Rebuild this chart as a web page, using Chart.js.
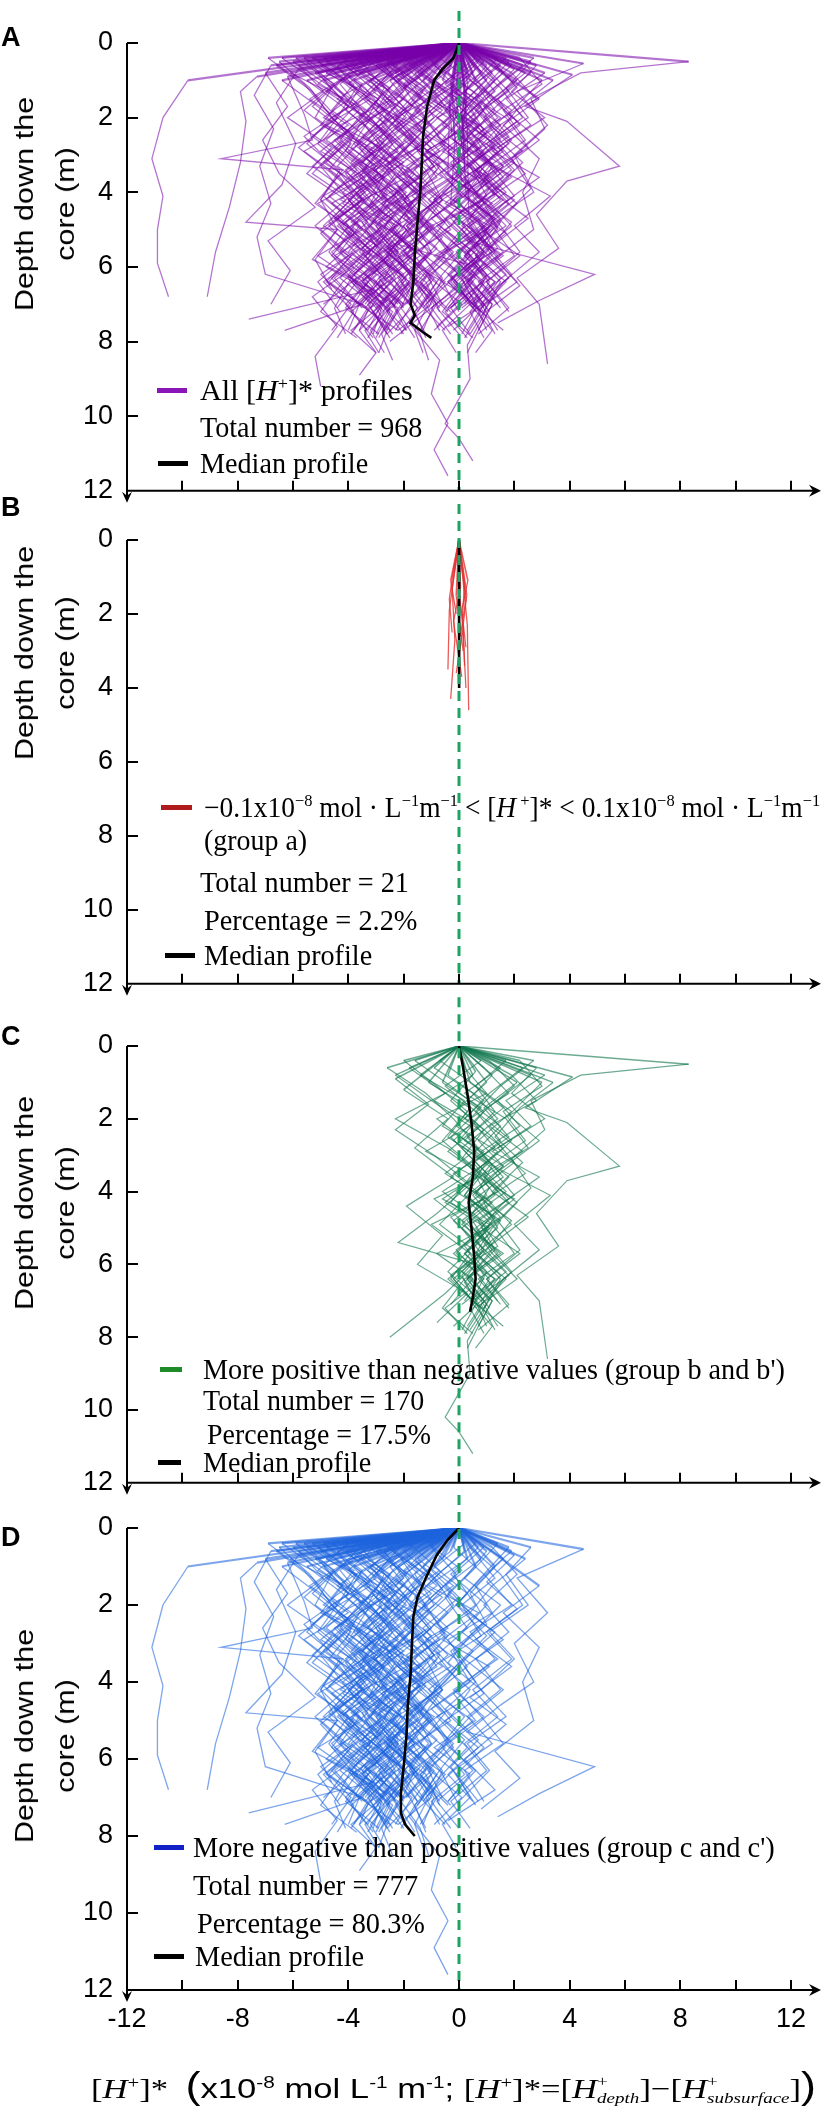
<!DOCTYPE html>
<html><head><meta charset="utf-8">
<script src="https://cdn.jsdelivr.net/npm/chart.js@4.4.0/dist/chart.umd.min.js"></script>
<style>
html,body{margin:0;padding:0;background:#fff;}
#page{position:relative;width:830px;height:2118px;overflow:hidden;background:#fff;}
canvas{position:absolute;left:0;}
.t{position:absolute;white-space:nowrap;transform-origin:0 50%;line-height:1;color:#000;}
.serif{font-family:'Liberation Serif','Times New Roman',serif;}
.sans{font-family:'Liberation Sans',Arial,sans-serif;}
.sw{position:absolute;height:5px;}
.lbl{position:absolute;font:bold 27px 'Liberation Sans',Arial,sans-serif;line-height:1;transform:translateY(-50%);}
sup{font-size:0.6em;vertical-align:0.6em;line-height:0;}
.ss{display:inline-flex;flex-direction:column;font-size:0.55em;line-height:1.1;vertical-align:0.75em;text-align:left;}
.big{font-size:1.3em;}
.ytitle{position:absolute;font-family:'Liberation Sans',Arial,sans-serif;font-size:26px;line-height:41px;text-align:center;white-space:nowrap;}
</style></head>
<body><div id="page"></div>
<script>
// ---------------- DATA ----------------
const xTickMarks = [-10,-8,-6,-4,-2,0,2,4,6,8,10,12];
const yTickMarks = [0,2,4,6,8,10];

// shared depth grids (m)
const depthGrid1 = [0,0.8,1.5,2.2,2.9,3.6,4.3,5.0,5.7,6.4,7.1,7.8,8.5];
const depthGrid2 = [0,0.6,1.3,2.0,2.8,3.5,4.2,4.9,5.7,6.4,7.2,7.9];
const depthGrid3 = [0,1.0,1.7,2.5,3.2,4.0,4.7,5.5,6.2,7.0,7.7,8.3];
const depthGrid4 = [0,0.4,1.1,1.8,2.6,3.3,4.1,4.8,5.6,6.3,7.0,7.7];
const depthGrid5 = [0,0.5,1.2,2.0,2.7,3.4,4.2,4.9,5.6,6.3,7.1,7.8];

// group c and c' (blue) profiles, [H+]* values on the grids
const blueOnGrid1 = [
 [0,-4.5,-3.2,-4.8,-2.9,-3.6,-2.1,-3.4,-2.5,-3.9,-2.8,-3.1],
 [0,-2.1,-1.4,-2.8,-1.9,-0.6,-2.2,-1.5,-3.0,-1.8,-2.4],
 [0,-6.1,-4.2,-5.0,-3.1,-4.4,-5.2,-3.8,-4.6,-3.3,-4.1,-2.9],
 [0,0.8,-0.5,0.4,-1.2,-0.3,-1.8,-0.9,-0.2,-1.4,-0.7],
 [0,-3.3,-2.0,-3.6,-4.1,-2.7,-3.2,-1.9,-2.6,-3.5,-2.2,-2.8,-2.4],
 [0,-1.2,-2.6,-1.1,-2.0,-3.1,-1.7,-2.4,-1.2,-2.1,-1.5],
 [0,-5.2,-3.9,-2.6,-4.0,-3.0,-4.6,-3.5,-5.1,-3.7,-4.4],
 [0,1.6,0.6,1.2,-0.4,0.3,-0.9,0.5,-0.6,0.2,-1.0,-0.3],
 [0,-2.8,-4.4,-3.0,-2.2,-3.9,-2.5,-4.1,-2.9,-1.8,-3.2,-2.6],
 [0,-0.6,-1.7,-0.4,-1.5,-0.8,-2.3,-1.0,-1.9,-0.5,-1.3],
 [0,-3.9,-5.4,-4.0,-5.6,-4.3,-3.6,-5.0,-3.9,-4.7,-3.4],
 [0,-1.9,-0.8,-2.1,-3.3,-1.4,-2.8,-2.0,-3.6,-2.3,-1.7,-2.6],
 [0,0.3,-1.1,0.7,-0.6,1.1,-0.2,0.6,-0.9,0.4,-0.4],
 [0,-4.8,-2.9,-3.8,-5.0,-3.4,-4.2,-2.6,-3.9,-4.8,-3.3,-3.9],
 [0,-2.5,-3.4,-1.6,-2.9,-2.1,-0.9,-2.5,-1.4,-2.8,-2.0],
 [0,-1.5,-0.2,-1.6,-0.7,-2.2,-1.1,-0.3,-1.8,-1.0,-2.1,-1.4,-1.1],
 [0,2.4,1.2,0.4,1.6,0.2,0.9,-0.5,0.7,-0.4,0.5],
 [0,-3.6,-2.4,-4.3,-3.1,-1.9,-3.7,-2.8,-4.5,-3.0,-2.3]
];
const blueOnGrid2 = [
 [0,-5.8,-4.9,-6.2,-4.6,-5.5,-4.1,-5.2,-4.0,-5.1,-4.3],
 [0,-1.0,-2.3,-1.2,-0.5,-1.9,-0.8,-2.0,-1.3,-0.6,-1.6,-1.2],
 [0,-3.0,-1.8,-2.7,-1.5,-3.3,-2.2,-1.4,-2.9,-2.0,-3.1,-2.5],
 [0,0.5,1.3,0.1,0.8,-0.7,0.4,-0.3,0.9,-0.1,0.6],
 [0,-4.1,-3.0,-4.6,-3.4,-2.5,-4.0,-3.2,-2.1,-3.6,-2.7,-3.3],
 [0,-2.4,-1.3,-2.0,-2.9,-1.6,-2.5,-0.9,-2.2,-1.5,-2.6],
 [0,-6.6,-5.3,-4.4,-5.8,-4.6,-3.5,-4.7,-3.6,-4.9,-3.8,-4.4],
 [0,-0.3,-1.5,-2.4,-1.0,-2.0,-0.6,-1.7,-2.5,-1.2,-0.7],
 [0,-1.7,-3.1,-1.9,-3.4,-2.3,-3.0,-1.6,-2.7,-3.8,-2.4,-2.9],
 [0,1.0,0.2,1.5,0.4,-0.4,0.8,-0.8,0.3,-0.6,0.0],
 [0,-3.5,-4.8,-3.3,-4.4,-5.3,-3.9,-4.9,-3.2,-4.2,-5.0,-3.7],
 [0,-2.0,-0.9,-1.8,-0.4,-1.3,-2.4,-1.1,-1.9,-0.8,-1.5],
 [0,-4.4,-3.7,-2.4,-3.6,-2.9,-4.3,-2.2,-3.4,-2.6,-3.9,-3.1],
 [0,-1.4,-2.7,-3.5,-2.1,-1.2,-2.6,-3.2,-1.8,-2.9,-2.2,-1.6],
 [0,0.2,-0.9,-0.2,-1.3,0.1,-0.8,-1.9,-0.5,-1.4,-0.3],
 [0,-5.0,-3.6,-4.9,-2.8,-4.1,-3.3,-4.4,-2.9,-3.7,-2.8],
 [0,-2.7,-2.0,-3.2,-3.9,-2.6,-1.8,-3.0,-2.3,-3.5,-2.5,-3.0],
 [0,1.9,0.8,-0.1,1.0,0.0,-0.9,0.2,-0.7,-1.5,-0.4]
];
const blueOnGrid3 = [
 [0,-6.4,-5.1,-3.8,-4.9,-3.2,-4.4,-3.1,-4.0,-2.7,-3.6,-3.0],
 [0,-2.2,-1.0,-2.5,-1.6,-2.9,-1.8,-2.6,-1.4,-2.4,-1.9],
 [0,-0.9,0.3,-0.8,0.5,-0.5,-1.6,-0.4,-1.2,0.1,-0.9],
 [0,-3.8,-2.6,-3.9,-2.8,-4.2,-2.4,-3.5,-2.1,-3.3,-2.6,-2.9],
 [0,-1.6,-2.8,-1.7,-0.7,-2.3,-1.3,-2.7,-1.7,-1.0,-2.2],
 [0,-4.9,-4.0,-5.3,-4.1,-3.0,-4.5,-3.6,-5.0,-3.9,-4.6],
 [0,1.3,0.4,1.0,-0.2,0.6,-0.5,0.7,-0.3,0.4,-0.6,-0.1],
 [0,-2.9,-3.9,-2.5,-3.5,-1.9,-3.1,-2.2,-3.4,-2.4,-3.2,-2.7],
 [0,-5.5,-4.2,-3.0,-3.9,-2.6,-3.6,-4.4,-3.0,-4.1,-3.3],
 [0,-1.3,-0.3,-1.5,-2.4,-1.2,-2.0,-0.8,-1.8,-1.1,-1.6,-1.3],
 [0,-3.2,-2.3,-3.5,-2.0,-3.7,-2.9,-1.7,-2.8,-3.6,-2.2],
 [0,0.6,-0.4,0.9,-0.3,0.4,-1.0,0.2,-0.6,-1.4,-0.5],
 [0,-4.3,-5.3,-3.9,-4.8,-3.4,-4.5,-2.8,-3.8,-2.5,-3.4,-2.9],
 [0,-2.5,-1.7,-3.0,-2.2,-1.3,-2.5,-3.1,-2.0,-2.8,-1.9]
];
const blueOnGrid4 = [
 [0,-5.3,-3.8,-4.6,-3.2,-2.4,-3.7,-2.6,-3.9,-2.8,-3.5,-2.5],
 [0,-3.4,-2.1,-3.0,-1.6,-2.7,-1.4,-2.9,-1.9,-3.1,-2.2],
 [0,-6.4,-5.0,-3.6,-4.8,-3.5,-2.7,-4.1,-3.2,-4.5,-3.6,-4.0],
 [0,-1.8,-0.7,-2.0,-1.1,-2.6,-1.5,-0.6,-2.1,-1.2,-1.9],
 [0,-4.6,-3.1,-2.2,-3.5,-4.4,-2.9,-3.8,-2.3,-3.3,-2.0,-2.7],
 [0,-2.9,-4.0,-2.6,-1.8,-3.2,-2.0,-3.5,-2.6,-1.5,-2.8],
 [0,0.6,-0.6,-1.6,-0.4,-1.9,-0.8,-1.4,-0.2,-1.1,-0.6],
 [0,-5.9,-4.5,-5.6,-4.2,-5.3,-3.8,-4.7,-3.4,-4.3,-3.1,-3.8],
 [0,-2.3,-3.3,-2.0,-2.9,-1.5,-2.4,-3.4,-2.2,-2.7,-1.7,-2.3],
 [0,-0.9,-2.0,-0.6,-1.8,-0.9,-2.7,-1.6,-1.0,-2.2,-1.4],
 [0,-4.0,-5.1,-3.4,-4.3,-3.0,-4.9,-3.7,-2.8,-4.0,-3.2,-3.6],
 [0,-1.3,-2.4,-3.0,-1.7,-2.6,-1.2,-2.3,-3.1,-1.9,-2.5],
 [0,1.4,0.5,-0.5,0.3,-0.8,0.1,-1.2,-0.4,-1.7,-0.9,-1.3],
 [0,-3.7,-2.8,-1.9,-3.0,-2.2,-3.6,-2.5,-1.6,-2.9,-2.0],
 [0,-6.9,-5.6,-4.8,-3.9,-5.0,-4.1,-3.3,-4.6,-3.7,-4.9],
 [0,-2.6,-1.5,-2.4,-3.3,-2.0,-2.8,-1.7,-2.5,-3.2,-2.1,-2.6],
 [0,-4.9,-3.5,-4.1,-2.7,-3.6,-2.3,-3.1,-4.0,-2.6,-3.4],
 [0,-1.1,0.1,-1.0,-2.0,-0.7,-1.5,-2.2,-1.0,-1.8,-0.8,-1.4],
 [0,-3.1,-4.3,-3.5,-2.4,-3.8,-2.9,-2.1,-3.3,-2.4,-3.7],
 [0,-5.6,-4.1,-3.0,-4.4,-3.3,-4.7,-3.5,-2.9,-3.9,-2.8],
 [0,0.2,-1.0,0.0,-1.3,-0.4,-1.7,-0.5,-1.4,-0.2,-1.2,-0.7],
 [0,-2.0,-2.9,-1.4,-2.5,-3.4,-2.0,-2.9,-1.5,-2.6,-1.8],
 [0,-4.2,-2.9,-3.9,-4.9,-3.6,-2.6,-3.9,-2.4,-3.5,-2.8,-3.3],
 [0,-1.6,-2.8,-1.9,-1.0,-2.2,-1.4,-2.6,-1.7,-1.0,-2.0]
];
const blueOnGrid5 = [
 [0,-4.8,-3.4,-2.5,-3.8,-2.7,-4.0,-3.0,-2.2,-3.4,-2.5,-3.0],
 [0,-2.6,-1.2,-2.3,-1.5,-0.8,-2.0,-1.3,-2.6,-1.6,-2.1],
 [0,-6.0,-4.6,-5.2,-3.9,-4.7,-3.4,-4.2,-3.1,-3.9,-3.0],
 [0,-3.6,-4.5,-3.2,-2.4,-3.5,-2.6,-3.9,-2.7,-2.0,-3.0,-2.4],
 [0,-0.5,-1.6,-0.9,-2.1,-1.2,-0.6,-1.9,-1.1,-2.0,-1.2],
 [0,-5.1,-3.7,-4.4,-5.1,-3.9,-3.0,-4.3,-3.3,-4.6,-3.5],
 [0,-1.9,-3.0,-2.2,-1.3,-2.6,-1.8,-1.0,-2.3,-1.6,-2.7,-2.0],
 [0,-4.2,-2.7,-3.3,-2.1,-3.0,-3.9,-2.8,-3.6,-2.4,-3.2],
 [0,0.9,-0.2,0.6,-0.7,0.2,-1.1,-0.3,-1.5,-0.6,-1.1],
 [0,-3.0,-2.0,-1.2,-2.4,-3.1,-1.9,-2.7,-1.6,-2.4,-1.5,-2.1],
 [0,-5.5,-4.4,-3.5,-4.6,-3.7,-4.8,-3.6,-4.3,-3.2,-3.9],
 [0,-2.2,-3.6,-2.8,-3.7,-2.6,-3.3,-2.1,-2.9,-2.3,-3.4],
 [0,-1.0,-0.1,-1.3,-0.5,-1.6,-0.6,-1.3,-2.0,-0.9,-1.7,-1.2],
 [0,-3.9,-2.5,-3.6,-2.9,-4.1,-3.2,-2.3,-3.5,-2.7,-3.9],
 [0,-6.5,-5.4,-4.6,-5.5,-4.3,-5.0,-4.0,-4.7,-3.9,-4.5,-4.1],
 [0,-2.9,-1.9,-2.9,-2.0,-3.0,-2.2,-3.3,-2.4,-1.7,-2.6],
 [0,1.2,2.1,0.9,1.8,0.6,1.5,0.3,1.2,-0.2,0.7],
 [0,0.4,1.5,2.3,1.0,1.9,0.5,1.4,0.2,1.0,-0.3,0.4],
 [0,-0.2,0.9,-0.1,1.3,0.2,1.6,0.4,-0.5,0.6,-0.4],
 [0,2.6,1.7,2.5,1.1,2.0,0.8,1.7,0.3,1.1,0.0],
 [0,0.7,-0.3,1.0,0.1,1.4,-0.2,0.9,-0.4,0.5,-0.8,0.0],
 [0,1.8,0.9,1.9,0.4,1.3,-0.1,0.8,1.6,0.2,0.9]
];
// blue profiles with their own depths: [x, depth]
const blueOutliers = [
 [[0,0],[-9.8,1.0],[-10.7,2.0],[-11.1,3.1],[-10.7,4.1],[-10.9,5.0],[-10.9,5.9],[-10.5,6.8]],
 [[0,0],[-7.3,0.9],[-7.9,1.3],[-7.7,2.1],[-7.9,3.2],[-8.3,4.4],[-8.8,5.6],[-9.1,6.8]],
 [[0,0],[-6.2,0.9],[-5.6,1.9],[-5.3,2.6],[-8.6,3.1],[-4.2,3.4],[-5.0,4.2],[-4.4,5.0],[-5.2,5.8],[-4.6,6.6]],
 [[0,0],[-5.8,0.7],[-6.6,1.6],[-5.9,2.7],[-6.4,3.8],[-7.7,4.8],[-4.4,5.0],[-5.3,5.8],[-3.1,6.6],[-7.6,7.4]],
 [[0,0],[-6.8,0.6],[-7.4,1.4],[-6.7,2.3],[-7.2,3.3],[-6.8,4.3],[-7.3,5.2],[-7.0,6.2],[-3.5,7.0],[-6.3,7.7]],
 [[0,0],[-7.0,0.8],[-6.2,1.7],[-7.1,2.6],[-6.5,3.5],[-5.2,4.4],[-6.9,5.3],[-6.1,6.1],[-6.8,7.0]],
 [[0,0],[4.5,0.55],[2.1,1.3],[3.2,2.2],[2.0,3.0],[2.7,4.0],[1.5,4.6],[0.3,5.3],[4.9,6.2],[2.9,6.9],[1.4,7.5]],
 [[0,0],[2.9,1.5],[1.6,2.2],[2.9,3.1],[2.3,4.0],[2.7,5.0],[1.3,5.8],[2.2,6.5],[0.8,7.3]],
 [[0,0],[2.0,0.7],[1.0,1.4],[2.1,2.1],[0.6,2.9],[1.9,3.6],[0.4,4.4],[1.7,5.1],[0.2,6.0],[1.3,6.8],[-0.4,7.6]],
 [[0,0],[-1.6,0.8],[-0.6,1.6],[-1.8,2.5],[-0.9,3.3],[-2.0,4.2],[-1.1,5.0],[-2.2,5.9],[-1.0,6.7],[-1.8,7.5],[-0.7,8.5],[-1.0,9.4],[-0.4,10.2],[-0.9,10.9],[-0.4,11.6]],
 [[0,0],[-4.0,0.9],[-2.7,1.8],[-4.5,2.6],[-3.2,3.5],[-5.1,4.3],[-3.6,5.2],[-4.8,6.0],[-2.6,6.9],[-3.9,7.7],[-3.0,8.3],[-3.6,8.9]],
 [[0,0],[-5.1,0.8],[-4.0,1.7],[-5.6,2.5],[-4.4,3.4],[-3.5,4.2],[-5.0,5.1],[-3.8,6.0],[-5.3,6.8],[-4.4,7.6],[-5.2,8.4],[-5.0,9.2]]
];
const blueMedian = [[0,0],[-0.4,0.3],[-0.8,0.7],[-1.2,1.3],[-1.5,1.8],[-1.65,2.3],[-1.7,3.0],[-1.75,3.8],[-1.85,4.6],[-1.9,5.4],[-2.0,6.2],[-2.1,6.9],[-2.1,7.4],[-1.95,7.7],[-1.6,8.0]];

// group b and b' (green)
const greenOnGrid1 = [
 [0,1.2,0.3,1.5,0.6,1.8,0.9,1.4,0.2,1.1,0.5],
 [0,-1.4,0.2,-0.6,0.9,-0.3,1.2,0.1,0.8,-0.2,0.6,0.1],
 [0,2.6,1.4,2.2,0.8,1.6,0.4,1.3,2.0,0.7,1.5],
 [0,0.5,-0.9,0.7,-0.4,0.9,1.8,0.6,1.4,0.3,1.0,0.4],
 [0,-2.3,-1.0,0.4,-1.2,0.6,-0.5,1.0,-0.8,0.5,-0.3],
 [0,1.9,2.8,1.1,2.3,0.9,2.1,1.2,0.6,1.7,0.8,1.3],
 [0,-0.4,0.9,-0.1,1.4,0.4,-0.3,1.1,0.2,1.3,0.1],
 [0,3.1,1.7,2.6,1.2,2.9,1.6,0.8,2.2,1.0,1.8,0.7]
];
const greenOnGrid2 = [
 [0,0.9,1.8,0.4,1.3,-0.2,1.0,0.1,1.6,0.3,1.1],
 [0,-1.8,-0.5,-2.3,-0.4,0.8,-0.6,1.1,-0.2,0.9,-0.5,0.3],
 [0,2.3,1.1,0.2,1.6,0.5,2.0,0.9,-0.1,1.3,0.4,0.9],
 [0,0.2,1.0,-0.8,0.6,1.5,0.2,-0.7,0.7,-0.4,0.8],
 [0,1.5,0.2,1.7,2.5,0.9,1.8,0.4,1.2,2.1,0.6],
 [0,-0.9,0.5,1.4,0.1,1.0,-0.9,0.3,1.5,0.2,-0.6,0.5],
 [0,2.8,1.9,3.1,1.4,2.4,1.0,1.9,0.6,1.5,0.9],
 [0,-2.6,-1.2,-0.2,0.7,-0.5,0.9,-1.0,0.4,-0.3,0.8,0.2]
];
const greenOnGrid3 = [
 [0,1.0,0.0,1.2,2.0,0.6,1.5,0.2,1.0,0.5,1.6],
 [0,-1.1,0.4,-0.4,1.0,-0.6,0.7,1.4,-0.1,0.9,0.3],
 [0,2.1,0.9,1.8,0.5,1.4,-0.3,0.8,1.7,0.4,1.2,0.6],
 [0,0.4,1.6,0.3,1.1,-0.1,1.3,0.5,-0.4,0.8,-0.2],
 [0,3.4,2.2,1.3,2.3,1.2,2.5,1.1,1.9,0.8,1.4],
 [0,-0.6,0.8,-0.3,0.6,1.7,0.4,1.1,0.1,1.2,0.7,0.3]
];
const greenOnGrid4 = [
 [0,1.7,0.6,1.9,0.7,1.6,0.3,1.2,0.5,1.5,0.8],
 [0,-1.6,-0.3,0.9,-0.2,1.1,0.2,1.4,0.3,0.9,0.2],
 [0,2.2,3.0,1.6,2.4,1.1,2.0,0.7,1.3,0.4,1.1],
 [0,0.8,-0.5,0.6,1.5,0.4,1.0,-0.2,0.9,0.1,0.6,1.0],
 [0,-0.7,0.6,1.3,0.2,1.6,0.5,1.3,-0.1,0.7,1.4],
 [0,2.7,1.5,0.6,1.9,0.9,0.2,1.5,0.8,1.8,0.5],
 [0,1.1,2.0,0.9,0.0,1.2,0.6,1.9,1.0,0.3,1.2,0.7],
 [0,-2.0,-0.8,0.3,-0.6,0.5,1.3,0.1,0.9,-0.3,0.5]
];
const greenOutliers = [
 [[0,0],[8.3,0.5],[4.4,0.8],[2.6,1.5],[3.1,2.3],[1.9,3.1],[2.6,3.9],[1.4,4.8],[2.2,5.6],[1.0,6.4],[1.8,7.2]],
 [[0,0],[4.1,0.85],[2.4,1.7],[3.9,2.1],[5.8,3.3],[3.9,3.7],[2.8,4.6],[3.6,5.5],[2.1,6.3],[2.9,7.0],[3.2,8.6]],
 [[0,0],[-2.3,0.9],[-1.1,1.6],[-2.3,2.3],[-0.9,3.0],[0.4,3.8],[-0.8,4.6],[-2.2,5.4],[0.6,6.0],[-0.5,6.8],[-2.5,8.0]],
 [[0,0],[0.6,0.7],[-0.3,1.5],[0.9,2.3],[0.1,3.1],[1.1,3.9],[0.3,4.8],[1.2,5.6],[0.2,6.5],[0.9,7.3],[0.3,8.1],[0.4,9.0],[-0.5,10.2],[0.0,10.6],[0.5,11.2]],
 [[0,0],[-2.0,1.2],[-0.4,2.0],[-1.6,2.8],[-0.2,3.6],[-1.9,4.4],[-0.6,5.2],[-1.5,6.0],[0.3,6.8],[-0.8,7.6]],
 [[0,0],[3.0,1.0],[1.8,1.9],[2.9,2.6],[1.5,3.4],[3.3,4.1],[2.0,4.9],[2.9,5.6],[1.6,6.4],[0.9,7.2]]
];
const greenMedian = [[0,0],[0.15,0.6],[0.3,1.3],[0.45,2.1],[0.55,2.9],[0.5,3.6],[0.35,4.3],[0.45,5.0],[0.55,5.8],[0.6,6.4],[0.5,6.9],[0.4,7.3]];

// group a (red)
const redProfiles = [
 [[0,0],[-0.15,0.8],[-0.35,1.9],[-0.4,3.5]],
 [[0,0],[0.12,0.9],[0.3,2.3],[0.35,4.6]],
 [[0,0],[-0.05,1.0],[0.15,2.4],[-0.1,3.6]],
 [[0,0],[0.2,1.2],[0.12,2.1],[0.25,4.0]],
 [[0,0],[-0.25,1.3],[-0.15,2.7],[-0.3,4.3]],
 [[0,0],[0.1,0.7],[0.25,1.6],[0.05,2.6]],
 [[0,0],[-0.1,1.5],[0.15,3.0]],
 [[0,0],[0.28,1.5],[0.15,2.3],[0.2,3.4]],
 [[0,0],[-0.3,1.1],[-0.1,2.0]],
 [[0,0],[0.05,1.3],[-0.2,2.2],[0.1,3.7]],
 [[0,0],[0.32,1.1],[0.1,1.9],[0.25,2.9]],
 [[0,0],[-0.22,0.9],[-0.35,1.6],[-0.25,2.5]]
];
const redMedian = [[0,0],[0.0,1.0],[0.02,2.0],[0.0,3.0],[0.0,4.0]];

// all profiles (median)
const allMedian = [[0,0],[-0.2,0.4],[-0.6,0.7],[-0.9,1.0],[-1.15,1.7],[-1.3,2.5],[-1.35,3.3],[-1.4,4.0],[-1.5,4.8],[-1.6,5.7],[-1.65,6.4],[-1.75,7.0],[-1.6,7.3],[-1.75,7.5],[-1.3,7.75],[-1.0,7.9]];

// ---------------- BUILD ----------------
const pts = arr => arr.map(([x,y]) => ({x, y}));
const onGrid = (grid, lists) => lists.map(xs => xs.map((x,i) => ({x, y: grid[i]})));
const blueSet = [...onGrid(depthGrid1, blueOnGrid1), ...onGrid(depthGrid2, blueOnGrid2), ...onGrid(depthGrid3, blueOnGrid3), ...onGrid(depthGrid4, blueOnGrid4), ...onGrid(depthGrid5, blueOnGrid5), ...blueOutliers.map(pts)];
const greenSet = [...onGrid(depthGrid1, greenOnGrid1), ...onGrid(depthGrid2, greenOnGrid2), ...onGrid(depthGrid3, greenOnGrid3), ...onGrid(depthGrid4, greenOnGrid4), ...greenOutliers.map(pts)];
const redSet = redProfiles.map(pts);
const allSet = [...blueSet, ...greenSet, ...redSet];

const page = document.getElementById('page');
const PAD_TOP = 56;
const X_LEFT = 127, X_RIGHT = 791, W = 830;

const axesDeco = {
  id: 'axesDeco',
  afterDatasetsDraw(chart) {
    const {ctx, chartArea: {left, right, top, bottom}, scales: {x, y}} = chart;
    ctx.save();
    ctx.strokeStyle = '#000'; ctx.fillStyle = '#000'; ctx.lineWidth = 2;
    ctx.beginPath();
    ctx.moveTo(left, top); ctx.lineTo(left, bottom + 8);
    ctx.moveTo(left - 1, bottom); ctx.lineTo(816, bottom);
    yTickMarks.forEach(v => { const p = Math.round(y.getPixelForValue(v)); ctx.moveTo(left, p); ctx.lineTo(left + 11, p); });
    xTickMarks.forEach(v => { const p = Math.round(x.getPixelForValue(v)); ctx.moveTo(p, bottom); ctx.lineTo(p, bottom - 10); });
    ctx.stroke();
    ctx.beginPath();
    ctx.moveTo(left, bottom + 12); ctx.lineTo(left - 5, bottom + 1); ctx.lineTo(left, bottom + 5); ctx.lineTo(left + 5, bottom + 1); ctx.closePath();
    ctx.moveTo(821, bottom); ctx.lineTo(809, bottom - 6); ctx.lineTo(813, bottom); ctx.lineTo(809, bottom + 6); ctx.closePath();
    ctx.fill();
    ctx.restore();
  }
};

function makePanel(cfg) {
  const canvas = document.createElement('canvas');
  const top = cfg.y0 - PAD_TOP;
  const h = (cfg.y12 - cfg.y0) + PAD_TOP + cfg.bottomSpace;
  canvas.width = W; canvas.height = h;
  canvas.style.top = top + 'px'; canvas.style.width = W + 'px'; canvas.style.height = h + 'px';
  page.appendChild(canvas);
  const perM = (cfg.y12 - cfg.y0) / 12;
  const dashTop = -(cfg.y0 - cfg.dashFrom) / perM;
  const datasets = [
    {data: [{x: 0, y: dashTop}, {x: 0, y: 12}], borderColor: '#1ea462', borderWidth: 3, borderDash: [10, 7], showLine: true, pointRadius: 0, clip: false, order: 0},
    {data: pts(cfg.median), borderColor: '#000', borderWidth: 2.6, showLine: true, pointRadius: 0, order: 1},
    ...cfg.profiles.map(p => ({data: p, borderColor: cfg.color, borderWidth: cfg.lw, showLine: true, pointRadius: 0, order: 2,
        segment: {borderWidth: c => c.p0DataIndex === 0 ? cfg.lw0 : cfg.lw}}))
  ];
  new Chart(canvas, {
    type: 'scatter',
    data: {datasets},
    options: {
      responsive: false, animation: false, devicePixelRatio: 1,
      layout: {padding: {top: PAD_TOP, right: W - X_RIGHT, bottom: 0, left: 0}},
      plugins: {legend: {display: false}, tooltip: {enabled: false}},
      elements: {line: {tension: 0}},
      scales: {
        x: {type: 'linear', min: -12, max: 12, position: 'bottom',
            grid: {display: false, drawTicks: false}, border: {display: false},
            ticks: {display: cfg.showX, stepSize: 4, autoSkip: false, maxRotation: 0, padding: 13, color: '#000',
                    font: {family: "'Liberation Sans', Arial, sans-serif", size: 27}},
            afterFit: s => { s.height = cfg.bottomSpace; }},
        y: {type: 'linear', min: 0, max: 12, reverse: true, position: 'left',
            grid: {display: false, drawTicks: false}, border: {display: false},
            ticks: {stepSize: 2, autoSkip: false, padding: 14, color: '#000',
                    font: {family: "'Liberation Sans', Arial, sans-serif", size: 27}},
            afterFit: s => { s.width = X_LEFT; }}
      }
    },
    plugins: [axesDeco]
  });
}

makePanel({y0: 43, y12: 503, bottomSpace: 18, dashFrom: 10, median: allMedian, profiles: allSet, color: 'rgba(120,0,170,0.55)', lw: 1.3, lw0: 2.2, showX: false});
makePanel({y0: 540, y12: 996, bottomSpace: 18, dashFrom: 503, median: redMedian, profiles: redSet, color: 'rgba(228,50,50,0.8)', lw: 1.3, lw0: 1.6, showX: false});
makePanel({y0: 1046, y12: 1495, bottomSpace: 18, dashFrom: 996, median: greenMedian, profiles: greenSet, color: 'rgba(18,120,78,0.62)', lw: 1.2, lw0: 1.5, showX: false});
makePanel({y0: 1528, y12: 1990, bottomSpace: 128, dashFrom: 1495, median: blueMedian, profiles: blueSet, color: 'rgba(30,100,220,0.58)', lw: 1.3, lw0: 2.2, showX: true});

// ---------------- TEXT ----------------
function addText(html, cls, left, cy, target, size) {
  const d = document.createElement('div');
  d.className = 't ' + cls;
  d.style.left = left + 'px'; d.style.top = cy + 'px'; d.style.fontSize = size + 'px';
  d.innerHTML = html;
  page.appendChild(d);
  const w = d.offsetWidth;
  d.style.transform = 'translateY(-50%) scaleX(' + (target / w) + ')';
  return d;
}
function swatch(color, x1, x2, cy) {
  const s = document.createElement('div');
  s.className = 'sw'; s.style.background = color;
  s.style.left = x1 + 'px'; s.style.width = (x2 - x1) + 'px'; s.style.top = (cy - 2.5) + 'px';
  page.appendChild(s);
}
function label(txt, cy) {
  const d = document.createElement('div'); d.className = 'lbl'; d.textContent = txt;
  d.style.left = '1px'; d.style.top = cy + 'px'; page.appendChild(d);
}
function yTitle(cy) {
  const d = document.createElement('div'); d.className = 'ytitle';
  d.innerHTML = '<span>Depth down the</span><br><span>core (m)</span>';
  page.appendChild(d);
  const w1 = d.querySelector('span').offsetWidth;
  d.style.left = '45px'; d.style.top = cy + 'px';
  d.style.transform = 'translate(-50%,-50%) rotate(-90deg) scaleX(' + (214 / w1) + ')';
}
const HP = '[<i>H</i><sup>+</sup>]*';
const FS = 29;
label('A', 37); label('B', 507); label('C', 1036); label('D', 1537);
[204, 653, 1203, 1736].forEach(yTitle);

// A
swatch('#8a16b8', 157, 187, 390);
addText('All ' + HP + ' profiles', 'serif', 200, 390, 213, FS);
addText('Total number = 968', 'serif', 200, 427, 222, FS);
swatch('#000', 158, 188, 463);
addText('Median profile', 'serif', 200, 463, 168, FS);
// B
swatch('#b01b1b', 161, 192, 807);
addText('\u22120.1x10<sup>\u22128</sup> mol \u00b7 L<sup>\u22121</sup>m<sup>\u22121</sup> &lt; [<i>H</i><sup> +</sup>]* &lt; 0.1x10<sup>\u22128</sup> mol \u00b7 L<sup>\u22121</sup>m<sup>\u22121</sup>', 'serif', 204, 807, 616, FS);
addText('(group a)', 'serif', 204, 840, 103, FS);
addText('Total number = 21', 'serif', 200, 882, 209, FS);
addText('Percentage = 2.2%', 'serif', 204, 920, 213, FS);
swatch('#000', 165, 195, 955);
addText('Median profile', 'serif', 204, 955, 168, FS);
// C
swatch('#1e8a2a', 160, 182, 1369);
addText("More positive than negative values (group b and b')", 'serif', 203, 1369, 582, FS);
addText('Total number = 170', 'serif', 203, 1400, 221, FS);
addText('Percentage = 17.5%', 'serif', 207, 1434, 224, FS);
swatch('#000', 158, 181, 1462);
addText('Median profile', 'serif', 203, 1462, 168, FS);
// D
swatch('#1220c8', 154, 184, 1847);
addText("More negative than positive values (group c and c')", 'serif', 193, 1847, 582, FS);
addText('Total number = 777', 'serif', 193, 1885, 225, FS);
addText('Percentage = 80.3%', 'serif', 197, 1923, 228, FS);
swatch('#000', 154, 184, 1956);
addText('Median profile', 'serif', 195, 1956, 169, FS);

// x axis title
addText('<span class="serif">' + HP + '</span>&nbsp;&nbsp;<span class="sans"><span class="big">(</span>x10<sup>-8</sup> mol L<sup>-1</sup> m<sup>-1</sup>; </span>' +
  '<span class="serif">' + HP + '=[<i>H</i><span class="ss"><span>+</span><i>depth</i></span>]\u2212[<i>H</i><span class="ss"><span>+</span><i>subsurface</i></span>]</span><span class="sans big">)</span>',
  '', 91, 2088, 725, 28);
</script>
</body></html>
